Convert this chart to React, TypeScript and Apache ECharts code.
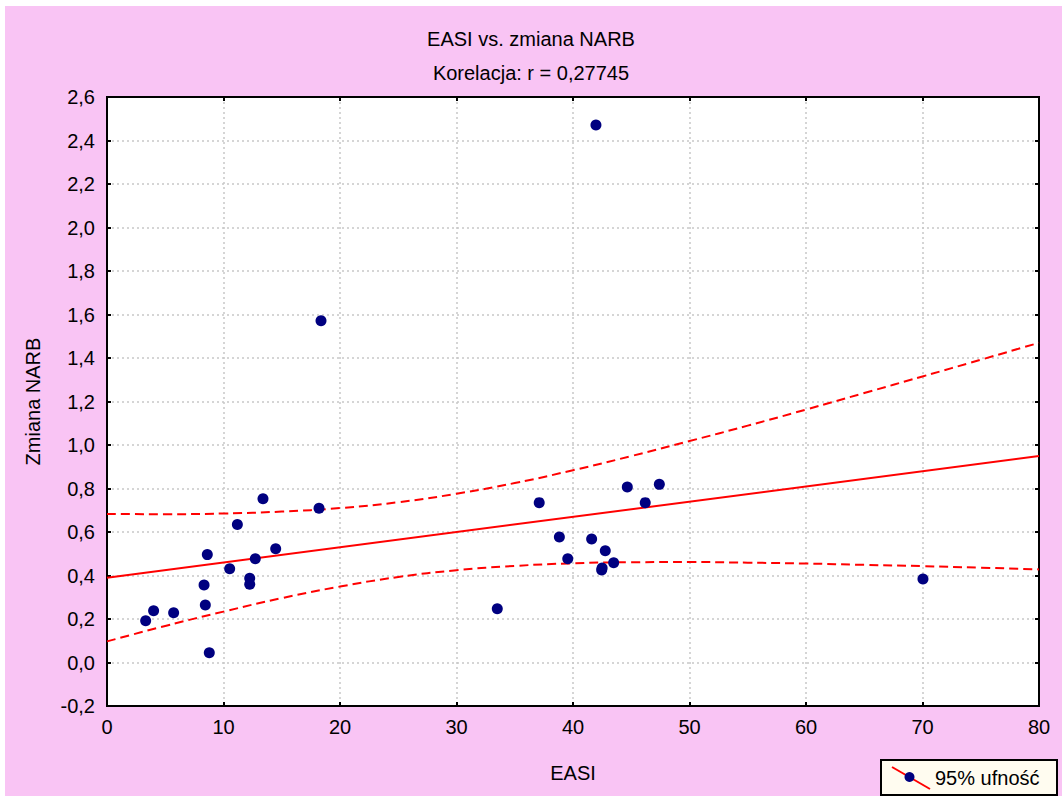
import React, { useEffect, useRef } from "react";
import * as echarts from "echarts";

// Scatter points: EASI (x) vs. zmiana NARB (y)
const easi = [
  3.32, 4.0, 5.72, 8.33, 8.44, 8.61, 8.78, 10.53, 11.19, 12.25, 12.25, 12.73, 13.39, 14.48, 18.2, 18.37,
  33.5, 37.1, 38.83, 39.55, 41.6, 41.97, 42.46, 42.5, 42.77, 43.49, 44.66, 46.2, 47.41, 70.04,
];
const narb = [
  0.192, 0.238, 0.229, 0.356, 0.264, 0.496, 0.045, 0.431, 0.634, 0.387, 0.36, 0.477, 0.753, 0.523, 0.709, 1.571,
  0.247, 0.735, 0.577, 0.477, 0.568, 2.471, 0.425, 0.434, 0.514, 0.459, 0.807, 0.735, 0.819, 0.384,
];

// Regression line
const regX = [0, 80];
const regY = [0.39, 0.949];

// 95% confidence bands
const bandX = [0, 5, 10, 15, 20, 25, 30, 35, 40, 45, 50, 55, 60, 65, 70, 75, 80];
const upperY = [0.683, 0.682, 0.685, 0.694, 0.71, 0.737, 0.776, 0.825, 0.884, 0.949, 1.018, 1.089, 1.163, 1.239, 1.315, 1.392, 1.47];
const lowerY = [0.097, 0.168, 0.234, 0.296, 0.349, 0.393, 0.424, 0.444, 0.456, 0.461, 0.462, 0.459, 0.455, 0.449, 0.443, 0.436, 0.428];

const titleText = "EASI vs. zmiana NARB";
const subTitleText = "Korelacja: r = 0,27745";
const xName = "EASI";
const yName = "Zmiana NARB";
const legendText = "95% ufność";

const FONT = "'Liberation Sans', Arial, sans-serif";
const FS = 20;
const PINK = "#f9c4f4";
const RED = "#ff0000";
const NAVY = "#000080";

export default function App() {
  const ref = useRef<HTMLDivElement>(null);

  useEffect(() => {
    const chart = echarts.init(ref.current!, null, { renderer: "svg" });
    const pts = easi.map((x, i) => [x, narb[i]]);
    const reg = regX.map((x, i) => [x, regY[i]]);
    const up = bandX.map((x, i) => [x, upperY[i]]);
    const lo = bandX.map((x, i) => [x, lowerY[i]]);

    const tickStyle = { inside: true, length: 4, lineStyle: { color: "#000", width: 2 } };
    const splitStyle = { show: true, lineStyle: { color: "#c8c8c8", type: [2, 3] as any, width: 1.5 } };

    chart.setOption({
      animation: false,
      backgroundColor: "#ffffff",
      textStyle: { fontFamily: FONT },
      title: [
        { text: titleText, left: "center", top: 24, textStyle: { fontFamily: FONT, fontSize: FS, fontWeight: "normal", color: "#000" } },
        { text: subTitleText, left: "center", top: 58, textStyle: { fontFamily: FONT, fontSize: FS, fontWeight: "normal", color: "#000" } },
      ],
      graphic: [
        { type: "rect", z: -10, silent: true, shape: { x: 5, y: 6, width: 1057, height: 790 }, style: { fill: PINK } },
        {
          type: "group",
          z: 100,
          children: [
            { type: "rect", shape: { x: 881, y: 760, width: 176, height: 35 }, style: { fill: "#fffcf0", stroke: "#000", lineWidth: 2 } },
            { type: "line", shape: { x1: 892, y1: 767, x2: 930, y2: 789 }, style: { stroke: RED, lineWidth: 2 } },
            { type: "circle", shape: { cx: 909.5, cy: 777, r: 5 }, style: { fill: NAVY } },
            {
              type: "text",
              x: 935,
              y: 778,
              style: { text: legendText, font: `${FS}px ${FONT}`, fill: "#000", textVerticalAlign: "middle", verticalAlign: "middle" },
            },
          ],
        },
      ],
      grid: {
        left: 107,
        top: 97,
        right: 23,
        bottom: 90,
        show: true,
        backgroundColor: "#ffffff",
        borderColor: "#000",
        borderWidth: 2,
      },
      xAxis: [
        {
          type: "value",
          min: 0,
          max: 80,
          interval: 10,
          position: "bottom",
          name: xName,
          nameLocation: "middle",
          nameGap: 57,
          nameTextStyle: { fontFamily: FONT, fontSize: FS, color: "#000" },
          axisLine: { show: true, onZero: false, lineStyle: { color: "#000", width: 2 } },
          axisTick: tickStyle,
          axisLabel: { fontFamily: FONT, fontSize: FS, color: "#000", margin: 11 },
          splitLine: splitStyle,
        },
        {
          type: "value",
          min: 0,
          max: 80,
          interval: 10,
          position: "top",
          axisLine: { show: true, onZero: false, lineStyle: { color: "#000", width: 2 } },
          axisTick: tickStyle,
          axisLabel: { show: false },
          splitLine: { show: false },
        },
      ],
      yAxis: [
        {
          type: "value",
          min: -0.2,
          max: 2.6,
          interval: 0.2,
          position: "left",
          name: yName,
          nameLocation: "middle",
          nameGap: 64,
          nameTextStyle: { fontFamily: FONT, fontSize: FS, color: "#000" },
          axisLine: { show: true, onZero: false, lineStyle: { color: "#000", width: 2 } },
          axisTick: tickStyle,
          axisLabel: {
            fontFamily: FONT,
            fontSize: FS,
            color: "#000",
            margin: 12,
            formatter: (v: number) => (Math.abs(v) < 1e-9 ? 0 : v).toFixed(1).replace(".", ","),
          },
          splitLine: splitStyle,
        },
        {
          type: "value",
          min: -0.2,
          max: 2.6,
          interval: 0.2,
          position: "right",
          axisLine: { show: true, onZero: false, lineStyle: { color: "#000", width: 2 } },
          axisTick: tickStyle,
          axisLabel: { show: false },
          splitLine: { show: false },
        },
      ],
      series: [
        {
          type: "line",
          data: up,
          smooth: true,
          symbol: "none",
          lineStyle: { color: RED, width: 2, type: [9, 5] as any },
          z: 3,
        },
        {
          type: "line",
          data: lo,
          smooth: true,
          symbol: "none",
          lineStyle: { color: RED, width: 2, type: [9, 5] as any },
          z: 3,
        },
        {
          type: "line",
          data: reg,
          symbol: "none",
          lineStyle: { color: RED, width: 2 },
          z: 4,
        },
        {
          type: "scatter",
          data: pts,
          symbol: "circle",
          symbolSize: 11,
          itemStyle: { color: NAVY, opacity: 1 },
          z: 5,
        },
      ],
    });
    return () => chart.dispose();
  }, []);

  return <div ref={ref} style={{ position: "absolute", left: 0, top: 0, width: 1062, height: 796 }} />;
}
